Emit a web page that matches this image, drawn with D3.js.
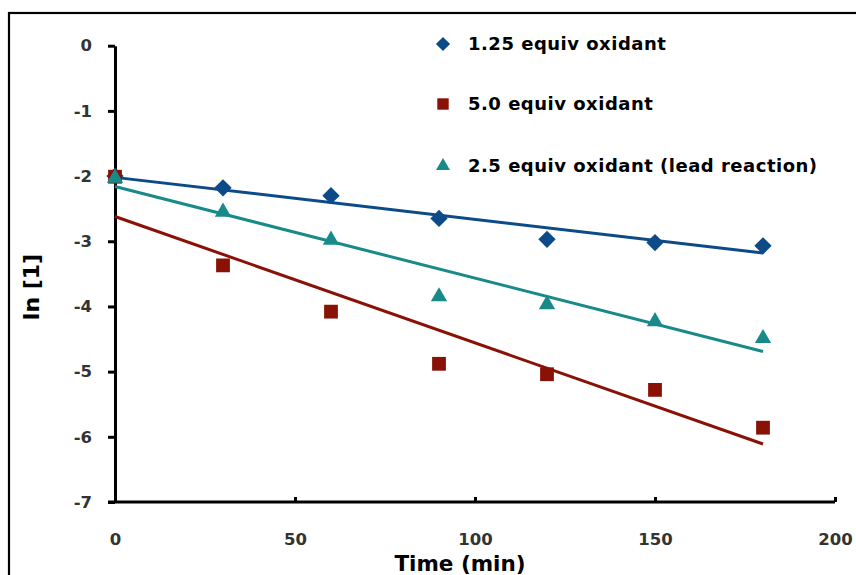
<!DOCTYPE html>
<html>
<head>
<meta charset="UTF-8">
<title>ln [1] vs time</title>
<style>
  body { margin: 0; background: #fff; }
  svg { display: block; font-family: "DejaVu Sans", sans-serif; font-weight: bold; }
  .tick text { fill: #333; font-size: 16.5px; }
  .legend text { font-size: 18px; fill: #000; }
</style>
</head>
<body>
<div id="chart"></div>
<script src="https://d3js.org/d3.v7.min.js"></script>
<script>
// sampling times (min)
const times = [0, 30, 60, 90, 120, 150, 180];

// ln [1] for each run
const equiv125 = [-2.00, -2.18, -2.30, -2.65, -2.97, -3.02, -3.07];
const equiv50  = [-2.01, -3.37, -4.08, -4.88, -5.04, -5.28, -5.86];
const equiv25  = [-2.03, -2.55, -2.98, -3.85, -3.97, -4.23, -4.49];

// trendlines: [intercept, slope]
const trend125 = [-2.02, -0.00644];
const trend50  = [-2.62, -0.01939];
const trend25  = [-2.16, -0.01406];

const seriesNames = ["1.25 equiv oxidant", "5.0 equiv oxidant", "2.5 equiv oxidant (lead reaction)"];
const xTicks = [0, 50, 100, 150, 200];
const yTicks = [0, -1, -2, -3, -4, -5, -6, -7];

const width = 856, height = 575;

// diamonds are squares turned 45 degrees, as in the original
const series = [
  {name: seriesNames[0], values: equiv125, fit: trend125, color: "#0d4a88", symbol: d3.symbolSquare, rot: 45, size: 150, legSize: 100},
  {name: seriesNames[1], values: equiv50,  fit: trend50,  color: "#8a1106", symbol: d3.symbolSquare, rot: 0, size: 190, legSize: 130},
  {name: seriesNames[2], values: equiv25,  fit: trend25,  color: "#188a8a", symbol: d3.symbolTriangle, rot: 0, size: 115, legSize: 85}
];

const svg = d3.select("#chart").append("svg")
  .attr("width", width).attr("height", height);

// outer frame, runs off the right and bottom edge like the original
svg.append("rect")
  .attr("x", 9).attr("y", 13)
  .attr("width", 900).attr("height", 700)
  .attr("fill", "none").attr("stroke", "#000").attr("stroke-width", 2.2);

const x = d3.scaleLinear().domain([0, 200]).range([115, 835]);
const y = d3.scaleLinear().domain([-7, 0]).range([502, 45.7]);

const yAxis = d3.axisLeft(y).tickValues(yTicks).tickFormat(d => String(d))
  .tickSizeInner(7).tickSizeOuter(0).tickPadding(16);
const xAxis = d3.axisBottom(x).tickValues(xTicks).tickFormat(d => String(d))
  .tickSizeInner(-5).tickSizeOuter(0).tickPadding(31);

const gx = svg.append("g").attr("transform", `translate(0,${y(-7)})`).call(xAxis);
const gy = svg.append("g").attr("transform", `translate(${x(0)},0)`).call(yAxis);

[gx, gy].forEach(g => {
  g.attr("font-family", null).attr("font-size", null);
  g.select(".domain").attr("stroke", "#000").attr("stroke-width", 3);
  g.selectAll(".tick line").attr("stroke", "#000").attr("stroke-width", 3);
});
gx.select(".domain").attr("d", `M${x(0) - 7},0H${x(200)}`);

// trendlines
series.forEach(s => {
  const t0 = times[0], t1 = times[times.length - 1];
  svg.append("line")
    .attr("x1", x(t0)).attr("y1", y(s.fit[0] + s.fit[1] * t0))
    .attr("x2", x(t1)).attr("y2", y(s.fit[0] + s.fit[1] * t1))
    .attr("stroke", s.color).attr("stroke-width", 3);
});

// markers
series.forEach(s => {
  svg.append("g").selectAll("path")
    .data(times.map((t, i) => [t, s.values[i]]))
    .join("path")
    .attr("transform", d => `translate(${x(d[0])},${y(d[1])}) rotate(${s.rot})`)
    .attr("d", d3.symbol(s.symbol, s.size))
    .attr("fill", s.color);
});

// legend
const legRows = [44, 104, 166];
const legend = svg.append("g").attr("class", "legend");
series.forEach((s, i) => {
  legend.append("path")
    .attr("transform", `translate(443,${legRows[i]}) rotate(${s.rot})`)
    .attr("d", d3.symbol(s.symbol, s.legSize))
    .attr("fill", s.color);
  legend.append("text")
    .attr("x", 468).attr("y", legRows[i]).attr("dy", "0.36em")
    .attr("letter-spacing", 0.5)
    .text(s.name);
});

// axis titles
svg.append("text")
  .attr("x", 460).attr("y", 571)
  .attr("text-anchor", "middle").attr("font-size", 21.5)
  .text("Time (min)");

svg.append("text")
  .attr("transform", "translate(39,287) rotate(-90)")
  .attr("text-anchor", "middle").attr("font-size", 22)
  .text("ln [1]");
</script>
</body>
</html>
